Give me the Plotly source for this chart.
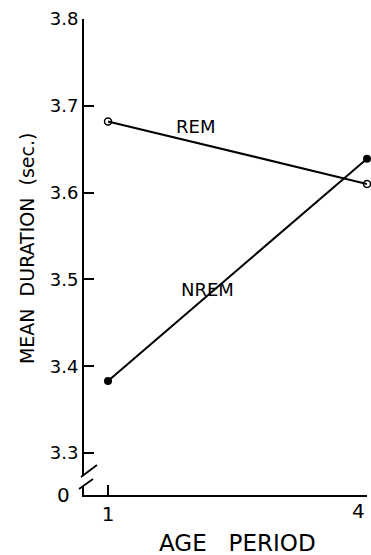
import plotly.graph_objects as go

age_period = [1, 4]
rem_values = [3.682, 3.610]
nrem_values = [3.383, 3.639]

y_tickvals = [3.2516, 3.3, 3.4, 3.5, 3.6, 3.7, 3.8]
y_ticktext = ["", "3.3", "3.4", "3.5", "3.6", "3.7", "3.8"]
x_tickvals = [1, 4]
x_ticklabels = ["1", "4"]

FONT = "DejaVu Sans, sans-serif"

fig = go.Figure()
fig.add_trace(go.Scatter(
    x=age_period, y=rem_values, mode="lines+markers", name="REM",
    line=dict(color="black", width=2),
    marker=dict(symbol="circle-open", size=7, color="black", line=dict(width=1.5)),
    cliponaxis=False, showlegend=False))
fig.add_trace(go.Scatter(
    x=age_period, y=nrem_values, mode="lines+markers", name="NREM",
    line=dict(color="black", width=2),
    marker=dict(symbol="circle", size=8, color="black"),
    cliponaxis=False, showlegend=False))

fig.update_layout(
    width=371, height=555,
    margin=dict(l=84, r=4, t=19, b=60),
    paper_bgcolor="white", plot_bgcolor="white",
    font=dict(family=FONT, color="black", size=18),
    xaxis=dict(range=[0.722, 4.0], tickvals=x_tickvals,
               ticktext=[x_ticklabels[0], ""],
               showgrid=False, zeroline=False, showline=True, linecolor="black",
               linewidth=2, ticks="inside", ticklen=10, tickwidth=2, tickcolor="black",
               tickfont=dict(size=20, family=FONT)),
    yaxis=dict(range=[3.2516, 3.8], tickvals=y_tickvals, ticktext=y_ticktext,
               showgrid=False, zeroline=False, showline=True, linecolor="black",
               linewidth=2, ticks="inside", ticklen=10, tickwidth=1.5, tickcolor="black",
               tickfont=dict(size=18, family=FONT)),
)

# axis break
fig.add_shape(type="rect", xref="paper", yref="paper", x0=-0.0177, x1=0.0177,
              y0=0.0189, y1=0.0399, fillcolor="white", line=dict(width=0), layer="above")
fig.add_shape(type="line", xref="paper", yref="paper", x0=-0.0106, y0=0.0378,
              x1=0.0459, y1=0.0630, line=dict(color="black", width=1.8), layer="above")
fig.add_shape(type="line", xref="paper", yref="paper", x0=-0.0177, y0=0.0126,
              x1=0.0318, y1=0.0336, line=dict(color="black", width=1.8), layer="above")

# "0" on the broken y axis and "4" at the right end of the x axis
fig.add_annotation(x=-0.071, y=0.0, xref="paper", yref="paper", text="0", showarrow=False,
                   font=dict(size=20, family=FONT), xanchor="center", yanchor="middle")
fig.add_annotation(x=1.0, y=-0.033, xref="paper", yref="paper", text=x_ticklabels[1],
                   showarrow=False, font=dict(size=20, family=FONT),
                   xanchor="right", yanchor="middle")

fig.add_annotation(x=2.015, y=3.676, xref="x", yref="y", text="REM", showarrow=False,
                   font=dict(size=18, family=FONT), xanchor="center", yanchor="middle")
fig.add_annotation(x=2.15, y=3.488, xref="x", yref="y", text="NREM", showarrow=False,
                   font=dict(size=18, family=FONT), xanchor="center", yanchor="middle")
fig.add_annotation(x=-0.201, y=0.519, xref="paper", yref="paper",
                   text="MEAN  DURATION  (sec.)", textangle=-90, showarrow=False,
                   font=dict(size=19, family=FONT), xanchor="center", yanchor="middle")
fig.add_annotation(x=0.541, y=-0.101, xref="paper", yref="paper", text="AGE   PERIOD",
                   showarrow=False, font=dict(size=23, family=FONT),
                   xanchor="center", yanchor="middle")

fig.write_html("out.html")
